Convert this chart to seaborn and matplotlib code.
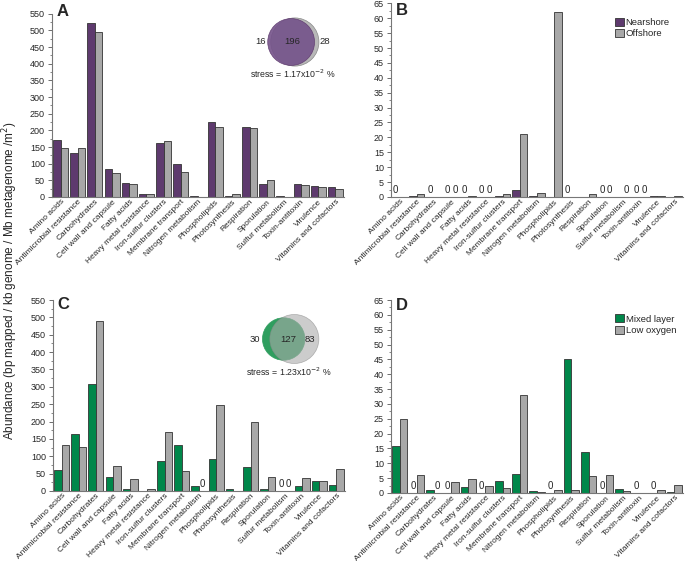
import numpy as np
import pandas as pd
import matplotlib
matplotlib.use("Agg")
import matplotlib.pyplot as plt
from matplotlib.patches import Circle
from matplotlib.ticker import MultipleLocator
import seaborn as sns

categories = ["Amino acids", "Antimicrobial resistance", "Carbohydrates", "Cell wall and capsule",
              "Fatty acids", "Heavy metal resistance", "Iron-sulfur clusters", "Membrane transport",
              "Nitrogen metabolism", "Phospholipids", "Photosynthesis", "Respiration", "Sporulation",
              "Sulfur metabolism", "Toxin-antitoxin", "Virulence", "Vitamins and cofactors"]

A_nearshore = [172, 133, 523, 84, 42, 9, 163, 99, 2, 225, 4, 210, 40, 3, 40, 34, 29]
A_offshore = [147, 147, 494, 71, 38, 9, 169, 75, 1, 210, 8, 206, 50, 1, 36, 29, 24]

B_nearshore = [0, 0.3, 0, 0, 0, 0, 0.4, 2.3, 0.3, 0.05, 0, 0.1, 0, 0.1, 0, 0.4, 0.1]
B_offshore = [0.1, 0.9, 0.1, 0, 0.5, 0, 1.0, 21, 1.3, 62, 0.1, 1.1, 0, 0, 0, 0.4, 0.2]

C_mixed = [60, 163, 307, 41, 6, 1, 85, 132, 13, 93, 6, 68, 6, 0, 13, 29, 16]
C_lowox = [132, 126, 490, 71, 34, 5, 169, 57, 0, 247, 0.5, 200, 39, 0, 37, 28, 64]

D_mixed = [15.8, 0, 0.9, 0, 1.9, 0, 4.2, 6.5, 0.8, 0, 45, 13.9, 0, 1.4, 0, 0, 0.4]
D_lowox = [24.8, 6.0, 0, 3.8, 4.7, 2.4, 1.7, 33, 0.3, 0.9, 1.1, 5.7, 6.0, 0.7, 0.1, 1.0, 2.6]

venn_A = {"left": 16, "both": 196, "right": 28, "stress": "stress = 1.17x10$^{-2}$ %"}
venn_C = {"left": 30, "both": 127, "right": 83, "stress": "stress = 1.23x10$^{-2}$ %"}

PURPLE = "#5e3a6e"
GREY = "#a8a8a8"
GREEN = "#00874a"

sns.set_style("white")
plt.rcParams["font.family"] = ["Liberation Sans", "DejaVu Sans"]

W, H = 685, 561
fig = plt.figure(figsize=(W / 100, H / 100), dpi=100)


def px_axes(x0, y_top, x1, y_bot):
    return fig.add_axes([x0 / W, 1 - y_bot / H, (x1 - x0) / W, (y_bot - y_top) / H])


def panel(ax, v1, v2, n1, n2, c1, c2, ymax, step, letter, letter_y, show_zero, legend_y=None):
    df = pd.DataFrame({
        "cat": categories * 2,
        "val": list(v1) + list(v2),
        "grp": [n1] * len(categories) + [n2] * len(categories),
    })
    sns.barplot(data=df, x="cat", y="val", hue="grp", palette=[c1, c2], width=0.88, gap=0,
                edgecolor="#333333", linewidth=0.6, ax=ax, legend=legend_y is not None,
                saturation=1, errorbar=None)
    ax.set_xlim(-0.5, len(categories) - 0.5)
    ax.set_ylim(0, ymax)
    ax.yaxis.set_major_locator(MultipleLocator(step))
    ax.yaxis.set_minor_locator(MultipleLocator(step / 2))
    ax.tick_params(axis="y", which="major", length=3, width=0.6, labelsize=6.5, pad=2, left=True,
                   color="#555555")
    ax.tick_params(axis="y", which="minor", length=1.5, width=0.5, left=True, color="#555555")
    ax.tick_params(axis="x", length=0, labelsize=6.0, pad=1)
    ax.set_xticks(range(len(categories)))
    ax.set_xticklabels(categories, rotation=45, ha="right", rotation_mode="anchor")
    ax.set_xlabel("")
    ax.set_ylabel("")
    for s in ["top", "right"]:
        ax.spines[s].set_visible(False)
    for s in ["left", "bottom"]:
        ax.spines[s].set_color("#777777")
        ax.spines[s].set_linewidth(0.8)
    ax.text(0.015, letter_y, letter, transform=ax.transAxes, fontsize=12, fontweight="bold",
            va="center", ha="left")
    if show_zero:
        for cont, vals in zip(ax.containers, [v1, v2]):
            for bar, v in zip(cont, vals):
                if v == 0:
                    ax.text(bar.get_x() + bar.get_width() / 2, ymax * 0.008, "0", ha="center",
                            va="bottom", fontsize=7)
    if legend_y is not None:
        ax.legend(loc="upper left", bbox_to_anchor=(0.755, legend_y), frameon=False, fontsize=6.8,
                  handlelength=0.9, handleheight=0.9, handletextpad=0.2, labelspacing=0.25,
                  borderaxespad=0)


def lens_area(r1, r2, d):
    if d >= r1 + r2:
        return 0.0
    if d <= abs(r1 - r2):
        return np.pi * min(r1, r2) ** 2
    a1 = r1 ** 2 * np.arccos((d ** 2 + r1 ** 2 - r2 ** 2) / (2 * d * r1))
    a2 = r2 ** 2 * np.arccos((d ** 2 + r2 ** 2 - r1 ** 2) / (2 * d * r2))
    a3 = 0.5 * np.sqrt((-d + r1 + r2) * (d + r1 - r2) * (d - r1 + r2) * (d + r1 + r2))
    return a1 + a2 - a3


def venn(cx, cy, v, c_left, c_right, front_left, edge_left, label_right_inside, scale):
    half = 40
    vax = px_axes(cx - half, cy - half, cx + half, cy + half)
    vax.set_xlim(-half / scale, half / scale)
    vax.set_ylim(-half / scale, half / scale)
    vax.set_aspect("equal")
    vax.axis("off")
    r1 = np.sqrt((v["left"] + v["both"]) / np.pi)
    r2 = np.sqrt((v["right"] + v["both"]) / np.pi)
    lo, hi = abs(r1 - r2), r1 + r2
    for _ in range(80):
        mid = (lo + hi) / 2
        if lens_area(r1, r2, mid) > v["both"]:
            lo = mid
        else:
            hi = mid
    d = (lo + hi) / 2
    x1, x2 = -d / 2, d / 2
    left = Circle((x1, 0), r1, facecolor=c_left, edgecolor=edge_left, linewidth=0.5)
    right = Circle((x2, 0), r2, facecolor=c_right, edgecolor="#888888", linewidth=0.5)
    if front_left:
        vax.add_patch(right)
        left.set_alpha(0.9)
        vax.add_patch(left)
    else:
        vax.add_patch(left)
        right.set_alpha(0.6)
        vax.add_patch(right)
    fs = 6.8
    vax.text(x1 - r1 - 0.8, 0, str(v["left"]), ha="right", va="center", fontsize=fs)
    vax.text((x1 + x2) / 2 - 0.2, 0, str(v["both"]), ha="center", va="center", fontsize=fs)
    if label_right_inside:
        vax.text(x2 + r2 * 0.62, 0, str(v["right"]), ha="center", va="center", fontsize=fs)
    else:
        vax.text(x2 + r2 + 0.3, 0, str(v["right"]), ha="left", va="center", fontsize=fs)
    vax.text(0, -max(r1, r2) - 0.7, v["stress"], ha="center", va="top", fontsize=6.3)


axA = px_axes(52, 13.7, 344, 197)
panel(axA, A_nearshore, A_offshore, "Nearshore", "Offshore", PURPLE, GREY, 550, 50, "A", 1.01,
      False)
axB = px_axes(391, 3.3, 683, 197)
panel(axB, B_nearshore, B_offshore, "Nearshore", "Offshore", PURPLE, GREY, 65, 5, "B", 0.964,
      True, legend_y=0.945)
axC = px_axes(53, 300, 345, 491)
panel(axC, C_mixed, C_lowox, "Mixed layer", "Low oxygen", GREEN, GREY, 550, 50, "C", 0.974, True)
axD = px_axes(391, 300, 683, 493)
panel(axD, D_mixed, D_lowox, "Mixed layer", "Low oxygen", GREEN, GREY, 65, 5, "D", 0.974, True,
      legend_y=0.945)

venn(293, 42, venn_A, "#74528a", "#b8b8b8", True, "#5e3a6e", False, 2.85)
venn(289, 339, venn_C, "#2f9e5f", "#aaaaaa", False, "#2f9e5f", True, 3.0)

fig.text(0.015, 0.5, "Abundance (bp mapped / kb genome / Mb metagenome /m$^2$)", rotation=90,
         ha="center", va="center", fontsize=8.5)

fig.savefig("out.png", dpi=100)
